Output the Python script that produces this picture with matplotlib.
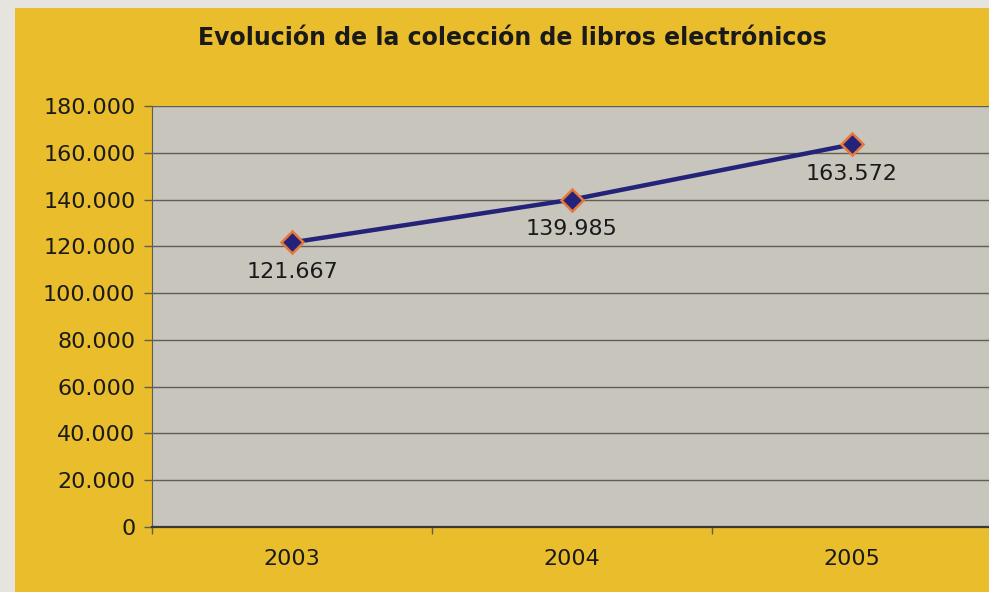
import matplotlib
matplotlib.use("Agg")
import matplotlib.pyplot as plt
from matplotlib.patches import Rectangle
from matplotlib.ticker import FuncFormatter, FixedLocator

years = ["2003", "2004", "2005"]
values = [121667, 139985, 163572]
value_labels = ["121.667", "139.985", "163.572"]
yticks = [0, 20000, 40000, 60000, 80000, 100000, 120000, 140000, 160000, 180000]

W, H = 989, 592
fig = plt.figure(figsize=(W / 100, H / 100), dpi=100)
fig.patch.set_facecolor("#e6e4de")
fig.patches.append(Rectangle((15 / W, 0), 1, 1 - 8 / H, transform=fig.transFigure,
                             facecolor="#e9bd2c", edgecolor="none", zorder=-10))

left, right = 152 / W, 992 / W
bottom, top = 1 - 527 / H, 1 - 106 / H
ax = fig.add_axes([left, bottom, right - left, top - bottom])
ax.set_zorder(1)
ax.set_facecolor("#c8c5bc")

x = list(range(len(years)))
ax.plot(x, values, color="#23237a", lw=3.2, zorder=3,
        marker="D", markersize=11, markerfacecolor="#23237a",
        markeredgecolor="#e8773a", markeredgewidth=1.8)
for xi, v, lab in zip(x, values, value_labels):
    ax.annotate(lab, (xi, v), xytext=(0, -14), textcoords="offset points",
                ha="center", va="top", fontsize=16, color="#1a1a1a", zorder=4)

ax.set_xlim(-0.5, 2.5)
ax.set_ylim(0, 180000)
ax.set_yticks(yticks)
ax.yaxis.set_major_formatter(FuncFormatter(lambda v, p: f"{int(v):,}".replace(",", ".")))
ax.grid(axis="y", color="#5e5e56", lw=1.0)
ax.set_axisbelow(True)

ax.set_xticks(x)
ax.set_xticklabels(years)
ax.xaxis.set_minor_locator(FixedLocator([-0.5, 0.5, 1.5, 2.5]))
ax.tick_params(axis="x", which="major", length=0, pad=16, labelsize=16, labelcolor="#1a1a1a")
ax.tick_params(axis="x", which="minor", length=5, color="#5e5e56", width=1)
ax.tick_params(axis="y", length=6, color="#5e5e56", width=1, pad=6, labelsize=16, labelcolor="#1a1a1a")

for s in ["top", "right"]:
    ax.spines[s].set_visible(False)
ax.spines["left"].set_color("#5e5e56")
ax.spines["bottom"].set_color("#3a3a34")
ax.spines["bottom"].set_linewidth(1.6)

fig.text(512 / W, 1 - 38 / H, "Evolución de la colección de libros electrónicos",
         ha="center", va="center", fontsize=17, fontweight="bold", color="#1a1a1a")

fig.savefig("out.png", dpi=100, facecolor=fig.get_facecolor())
